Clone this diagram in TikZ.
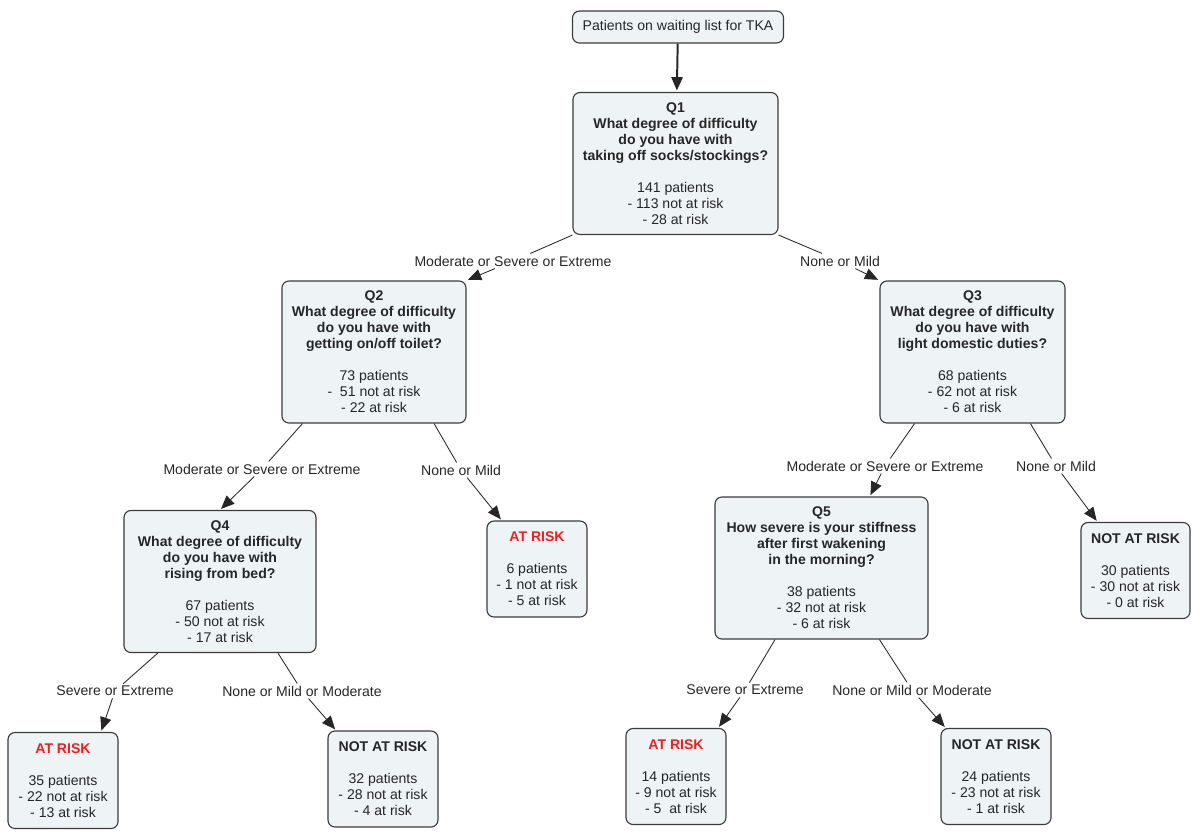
\documentclass[tikz,border=0pt]{standalone}
\usepackage{fontspec}
\setmainfont{Liberation Sans}
\usepackage{xcolor}
\usetikzlibrary{arrows.meta}

\definecolor{boxfill}{RGB}{238, 243, 246}
\definecolor{boxline}{RGB}{60, 60, 60}
\definecolor{riskred}{RGB}{240, 30, 30}

\begin{document}
\begin{tikzpicture}[
    x = 0.025cm, y = -0.025cm,
    font = \fontsize{10}{11.4}\selectfont,
    box/.style = {draw = boxline, line width = 0.8pt, fill = boxfill, rounded corners = 5pt,
                  align = center, text = black!85, inner sep = 0pt, minimum height = 3.55cm},
    leaf/.style = {box, minimum height = 2.4cm},
    lbl/.style = {text = black!85, inner sep = 1.5pt},
    arr/.style = {draw = black!85, line width = 0.6pt, -{Triangle[length = 9.5pt, width = 8pt]}, shorten > = 1pt}
]
    \useasboundingbox (0, 0) rectangle (1200, 837);

    % start and questions
    \node [box, minimum width = 5.275cm, minimum height = 0.8cm] (start) at (678, 27) {Patients on waiting list for TKA};
    \node [box, minimum width = 5.125cm] (Q1) at (675.5, 163.5) {\textbf{Q1}\\\textbf{What degree of difficulty}\\\textbf{do you have with}\\\textbf{taking off socks/stockings?}\\[\baselineskip]
        141 patients\\- 113 not at risk\\- 28 at risk};
    \node [box, minimum width = 4.6cm] (Q2) at (374, 352) {\textbf{Q2}\\\textbf{What degree of difficulty}\\\textbf{do you have with}\\\textbf{getting on/off toilet?}\\[\baselineskip]
        73 patients\\-\ \ 51 not at risk\\- 22 at risk};
    \node [box, minimum width = 4.625cm] (Q3) at (972.5, 352) {\textbf{Q3}\\\textbf{What degree of difficulty}\\\textbf{do you have with}\\\textbf{light domestic duties?}\\[\baselineskip]
        68 patients\\- 62 not at risk\\- 6 at risk};
    \node [box, minimum width = 4.8cm] (Q4) at (220, 581.5) {\textbf{Q4}\\\textbf{What degree of difficulty}\\\textbf{do you have with}\\\textbf{rising from bed?}\\[\baselineskip]
        67 patients\\- 50 not at risk\\- 17 at risk};
    \node [box, minimum width = 5.325cm] (Q5) at (821.5, 568) {\textbf{Q5}\\\textbf{How severe is your stiffness}\\\textbf{after first wakening}\\\textbf{in the morning?}\\[\baselineskip]
        38 patients\\- 32 not at risk\\- 6 at risk};

    % outcomes
    \node [leaf, minimum width = 2.5cm] (A2) at (537, 569) {\textbf{\color{riskred}AT RISK}\\[\baselineskip]6 patients\\- 1 not at risk\\- 5 at risk};
    \node [leaf, minimum width = 2.725cm] (N3) at (1135.5, 570.5) {\textbf{NOT AT RISK}\\[\baselineskip]30 patients\\- 30 not at risk\\- 0 at risk};
    \node [leaf, minimum width = 2.75cm] (A4) at (63, 780.5) {\textbf{\color{riskred}AT RISK}\\[\baselineskip]35 patients\\- 22 not at risk\\- 13 at risk};
    \node [leaf, minimum width = 2.75cm] (N4) at (383, 779) {\textbf{NOT AT RISK}\\[\baselineskip]32 patients\\- 28 not at risk\\- 4 at risk};
    \node [leaf, minimum width = 2.5cm] (A5) at (676, 776.5) {\textbf{\color{riskred}AT RISK}\\[\baselineskip]14 patients\\- 9 not at risk\\- 5\ \ at risk};
    \node [leaf, minimum width = 2.75cm] (N5) at (996, 776.5) {\textbf{NOT AT RISK}\\[\baselineskip]24 patients\\- 23 not at risk\\- 1 at risk};

    % answers
    \node [lbl] (l1) at (513, 261) {Moderate or Severe or Extreme};
    \node [lbl] (l2) at (840, 261) {None or Mild};
    \node [lbl] (l3) at (262, 469) {Moderate or Severe or Extreme};
    \node [lbl] (l4) at (461, 470) {None or Mild};
    \node [lbl] (l5) at (885, 466) {Moderate or Severe or Extreme};
    \node [lbl] (l6) at (1056, 466) {None or Mild};
    \node [lbl] (l7) at (115, 691) {Severe or Extreme};
    \node [lbl] (l8) at (302, 691) {None or Mild or Moderate};
    \node [lbl] (l9) at (745, 690) {Severe or Extreme};
    \node [lbl] (l10) at (912, 690) {None or Mild or Moderate};

    \draw [arr, line width = 1.4pt] (start) -- (Q1);
    \foreach \a/\l/\b in {Q1.south west/l1/Q2.north east, Q1.south east/l2/Q3.north west,
                          Q2.-135/l3/Q4.north, Q2.-50/l4/A2.126,
                          Q3.-129/l5/Q5.56, Q3.-51/l6/N3.128,
                          Q4.-131/l7/A4.52, Q4.-51/l8/N4.134,
                          Q5.-123/l9/A5.49, Q5.-51/l10/N5.136} {
        \draw [draw = black!85, line width = 0.6pt] (\a) -- (\l);
        \draw [arr] (\l) -- (\b);
    }
\end{tikzpicture}
\end{document}
